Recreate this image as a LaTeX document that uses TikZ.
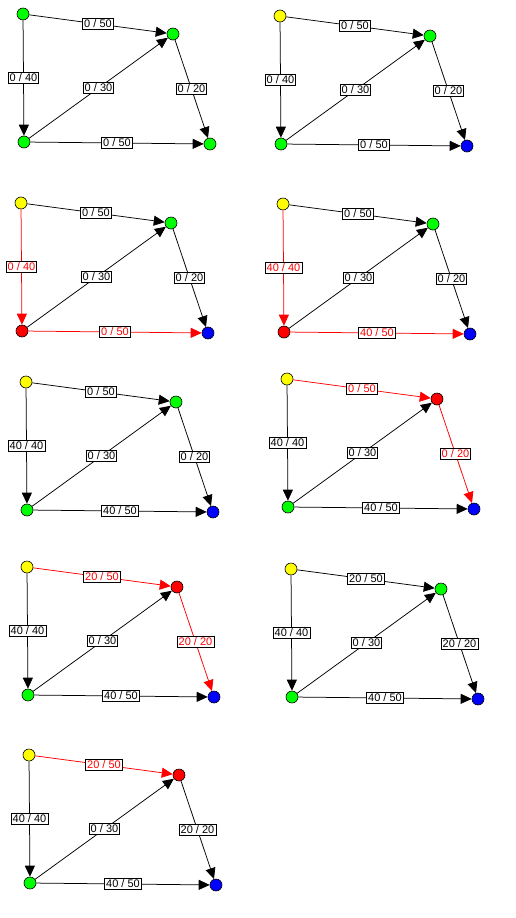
\documentclass[tikz,border=0pt]{standalone}
\usepackage{fontspec}
\setmainfont{Liberation Sans}
\usetikzlibrary{arrows.meta}
\definecolor{vgreen}{RGB}{0,255,0}
\definecolor{vyellow}{RGB}{255,255,0}
\definecolor{vred}{RGB}{255,0,0}
\definecolor{vblue}{RGB}{0,0,255}
\tikzset{
  vert/.style={circle,draw=black,line width=0.6pt,minimum size=12pt,inner sep=0pt},
  edge/.style={line width=0.75pt,-{Triangle[length=11pt,width=10pt]}},
  lab/.style={fill=white,draw=black,line width=0.6pt,inner xsep=1.5pt,inner ysep=1.3pt,font=\fontsize{11}{13}\selectfont},
  hot/.style={color=vred},
  cold/.style={color=black}
}
\newcommand\panelnodes[6]{%
  \begin{scope}[shift={#2}]
    \node[vert,fill=#3] (#1s) at (0,0) {};
    \node[vert,fill=#4] (#1a) at (150,20) {};
    \node[vert,fill=#5] (#1b) at (1,128) {};
    \node[vert,fill=#6] (#1t) at (187,130) {};
  \end{scope}}
\newcommand\fedge[4]{\draw[edge,#4] (#1) -- node[lab]{#3} (#2);}
\begin{document}
\begin{tikzpicture}[x=1pt,y=-1pt]
\fill[white] (0,0) rectangle (515,918);
\useasboundingbox (0,0) rectangle (515,918);

% Panel 1
\panelnodes{p1}{(23,14)}{vgreen}{vgreen}{vgreen}{vgreen}
\fedge{p1s}{p1a}{0 / 50}{cold}
\fedge{p1s}{p1b}{0 / 40}{cold}
\fedge{p1b}{p1a}{0 / 30}{cold}
\fedge{p1a}{p1t}{0 / 20}{cold}
\fedge{p1b}{p1t}{0 / 50}{cold}

% Panel 2
\panelnodes{p2}{(280,16)}{vyellow}{vgreen}{vgreen}{vblue}
\fedge{p2s}{p2a}{0 / 50}{cold}
\fedge{p2s}{p2b}{0 / 40}{cold}
\fedge{p2b}{p2a}{0 / 30}{cold}
\fedge{p2a}{p2t}{0 / 20}{cold}
\fedge{p2b}{p2t}{0 / 50}{cold}

% Panel 3
\panelnodes{p3}{(21,203)}{vyellow}{vgreen}{vred}{vblue}
\fedge{p3s}{p3a}{0 / 50}{cold}
\fedge{p3s}{p3b}{0 / 40}{hot}
\fedge{p3b}{p3a}{0 / 30}{cold}
\fedge{p3a}{p3t}{0 / 20}{cold}
\fedge{p3b}{p3t}{0 / 50}{hot}

% Panel 4
\panelnodes{p4}{(283,204)}{vyellow}{vgreen}{vred}{vblue}
\fedge{p4s}{p4a}{0 / 50}{cold}
\fedge{p4s}{p4b}{40 / 40}{hot}
\fedge{p4b}{p4a}{0 / 30}{cold}
\fedge{p4a}{p4t}{0 / 20}{cold}
\fedge{p4b}{p4t}{40 / 50}{hot}

% Panel 5
\panelnodes{p5}{(26,382)}{vyellow}{vgreen}{vgreen}{vblue}
\fedge{p5s}{p5a}{0 / 50}{cold}
\fedge{p5s}{p5b}{40 / 40}{cold}
\fedge{p5b}{p5a}{0 / 30}{cold}
\fedge{p5a}{p5t}{0 / 20}{cold}
\fedge{p5b}{p5t}{40 / 50}{cold}

% Panel 6
\panelnodes{p6}{(287,379)}{vyellow}{vred}{vgreen}{vblue}
\fedge{p6s}{p6a}{0 / 50}{hot}
\fedge{p6s}{p6b}{40 / 40}{cold}
\fedge{p6b}{p6a}{0 / 30}{cold}
\fedge{p6a}{p6t}{0 / 20}{hot}
\fedge{p6b}{p6t}{40 / 50}{cold}

% Panel 7
\panelnodes{p7}{(27,567)}{vyellow}{vred}{vgreen}{vblue}
\fedge{p7s}{p7a}{20 / 50}{hot}
\fedge{p7s}{p7b}{40 / 40}{cold}
\fedge{p7b}{p7a}{0 / 30}{cold}
\fedge{p7a}{p7t}{20 / 20}{hot}
\fedge{p7b}{p7t}{40 / 50}{cold}

% Panel 8
\panelnodes{p8}{(291,569)}{vyellow}{vgreen}{vgreen}{vblue}
\fedge{p8s}{p8a}{20 / 50}{cold}
\fedge{p8s}{p8b}{40 / 40}{cold}
\fedge{p8b}{p8a}{0 / 30}{cold}
\fedge{p8a}{p8t}{20 / 20}{cold}
\fedge{p8b}{p8t}{40 / 50}{cold}

% Panel 9
\panelnodes{p9}{(29,755)}{vyellow}{vred}{vgreen}{vblue}
\fedge{p9s}{p9a}{20 / 50}{hot}
\fedge{p9s}{p9b}{40 / 40}{cold}
\fedge{p9b}{p9a}{0 / 30}{cold}
\fedge{p9a}{p9t}{20 / 20}{cold}
\fedge{p9b}{p9t}{40 / 50}{cold}
\end{tikzpicture}
\end{document}
